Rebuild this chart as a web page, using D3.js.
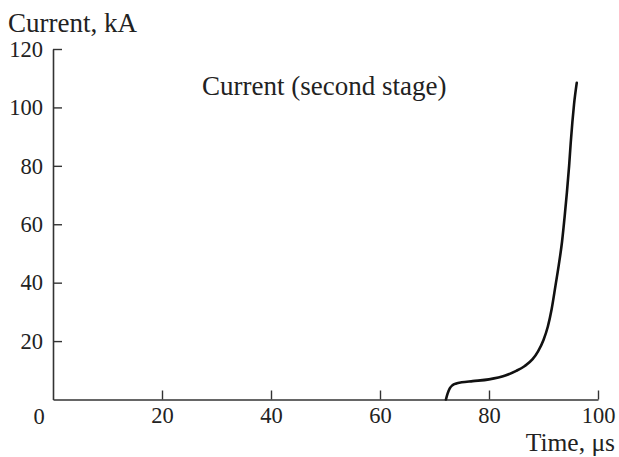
<!DOCTYPE html>
<html>
<head>
<meta charset="utf-8">
<script src="https://cdn.jsdelivr.net/npm/d3@7"></script>
<style>
  body { margin: 0; background: #fff; }
</style>
</head>
<body>
<svg id="chart" width="619" height="457"></svg>
<script>
// time (µs) and current (kA)
const timeVals = [72.1, 72.4, 72.8, 73.3, 74.0, 75, 77, 80, 83, 85, 86.5, 88, 89, 90, 90.8, 91.5, 92.2, 92.8, 93.4, 93.9, 94.3, 94.7, 95.0, 95.3, 95.6, 96.1];
const currentVals = [0, 2.0, 3.8, 4.9, 5.5, 5.9, 6.3, 6.9, 8.2, 9.8, 11.4, 13.8, 16.5, 20.4, 25, 31, 39, 46, 54, 63, 71, 80, 88, 95, 101, 108.4];
const xTicks = [20, 40, 60, 80, 100];
const yTicks = [20, 40, 60, 80, 100, 120];

const serif = "'Liberation Serif', 'Times New Roman', serif";
const svg = d3.select("#chart");

const x = d3.scaleLinear().domain([0, 100]).range([53, 598]);
const y = d3.scaleLinear().domain([0, 120]).range([399.5, 49]);

// axes, ticks pointing inward
const xAxis = svg.append("g")
  .attr("transform", "translate(0," + y(0) + ")")
  .call(d3.axisBottom(x).tickValues(xTicks).tickSizeInner(-9).tickSizeOuter(0).tickPadding(8));

const yAxis = svg.append("g")
  .attr("transform", "translate(" + x(0) + ",0)")
  .call(d3.axisLeft(y).tickValues(yTicks).tickSizeInner(-9).tickSizeOuter(0).tickPadding(10));

[xAxis, yAxis].forEach(function(g){
  g.attr("font-family", serif).attr("font-size", 22.5);
  g.select(".domain").attr("stroke", "#333").attr("stroke-width", 1.6);
  g.selectAll(".tick line").attr("stroke", "#333").attr("stroke-width", 1.4);
  g.selectAll(".tick text").attr("fill", "#222");
});

// shared origin label
svg.append("text")
  .attr("x", 39).attr("y", 423.5)
  .attr("text-anchor", "middle")
  .attr("font-family", serif).attr("font-size", 22.5).attr("fill", "#222")
  .text("0");

// curve
const line = d3.line()
  .x(function(d, i){ return x(timeVals[i]); })
  .y(function(d, i){ return y(currentVals[i]); })
  .curve(d3.curveMonotoneX);

svg.append("path")
  .datum(currentVals)
  .attr("d", line)
  .attr("fill", "none")
  .attr("stroke", "#111")
  .attr("stroke-width", 2.6)
  .attr("stroke-linecap", "round");

// labels
function label(txt, xx, yy, anchor, size){
  svg.append("text")
    .attr("x", xx).attr("y", yy)
    .attr("text-anchor", anchor)
    .attr("font-family", serif).attr("font-size", size).attr("fill", "#222")
    .text(txt);
}
label("Current, kA", 8, 32, "start", 27);
label("Time, μs", 615, 450.5, "end", 25.5);
label("Current (second stage)", 202, 95, "start", 27);
</script>
</body>
</html>
